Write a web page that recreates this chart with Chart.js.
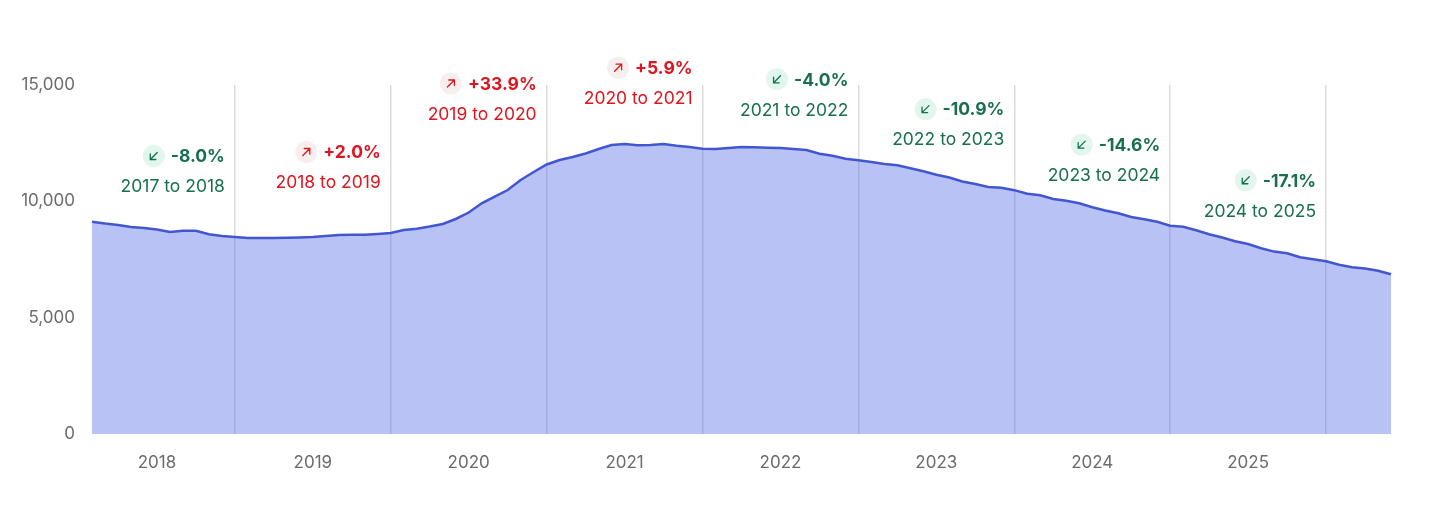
<!DOCTYPE html>
<html>
<head>
<meta charset="utf-8">
<script src="https://cdn.jsdelivr.net/npm/chart.js@4.4.1/dist/chart.umd.min.js"></script>
<style>
  html, body { margin: 0; padding: 0; background: #fff; }
  #wrap { width: 1429px; height: 526px; position: relative; }
</style>
</head>
<body>
<div id="wrap"><canvas id="trendChart"></canvas></div>
<script>
// Monthly values, first point is Feb 2018
const startYear = 2018;
const startMonth = 2;
const values = [
  9125, 9047, 8983, 8897, 8854, 8790, 8682, 8738, 8738, 8583, 8510, 8467,
  8424, 8424, 8424, 8432, 8445, 8467, 8510, 8553, 8560, 8565, 8596, 8639,
  8768, 8824, 8918, 9026, 9241, 9520, 9916, 10199, 10487, 10917, 11261, 11583,
  11776, 11905, 12056, 12250, 12421, 12464, 12408, 12421, 12464, 12391, 12335, 12262,
  12249, 12292, 12335, 12322, 12305, 12292, 12249, 12206, 12047, 11961, 11832, 11763,
  11690, 11605, 11549, 11420, 11291, 11145, 11024, 10852, 10745, 10616, 10586, 10480,
  10324, 10264, 10100, 10027, 9920, 9748, 9606, 9490, 9327, 9232, 9120, 8955,
  8905, 8755, 8587, 8446, 8287, 8166, 7981, 7840, 7767, 7595, 7509, 7425,
  7272, 7169, 7109, 7014, 6864
];
const yearLabels = ['2018', '2019', '2020', '2021', '2022', '2023', '2024', '2025'];
const yTicks = [0, 5000, 10000, 15000];

// Year-over-year changes, one per year boundary
const changePct = ['-8.0%', '+2.0%', '+33.9%', '+5.9%', '-4.0%', '-10.9%', '-14.6%', '-17.1%'];
const changeLabel = ['2017 to 2018', '2018 to 2019', '2019 to 2020', '2020 to 2021',
  '2021 to 2022', '2022 to 2023', '2023 to 2024', '2024 to 2025'];

// build month keys like 2018-02
const months = [];
for (let i = 0; i < values.length; i++) {
  const m = (startMonth - 1 + i) % 12 + 1;
  const y = startYear + Math.floor((startMonth - 1 + i) / 12);
  months.push(y + '-' + String(m).padStart(2, '0'));
}

const FONT = 'Inter, "Noto Sans", sans-serif';
const GREEN = '#17704b';
const RED = '#e0141e';

function drawArrow(ctx, cx, cy, up, color) {
  const s = 3.5;
  ctx.save();
  ctx.strokeStyle = color;
  ctx.lineWidth = 1.3;
  ctx.lineCap = 'round';
  ctx.beginPath();
  if (up) {
    ctx.moveTo(cx - s, cy + s);
    ctx.lineTo(cx + s, cy - s);
    ctx.moveTo(cx - s * 0.6, cy - s);
    ctx.lineTo(cx + s, cy - s);
    ctx.lineTo(cx + s, cy + s * 0.6);
  } else {
    ctx.moveTo(cx + s, cy - s);
    ctx.lineTo(cx - s, cy + s);
    ctx.moveTo(cx - s, cy - s * 0.6);
    ctx.lineTo(cx - s, cy + s);
    ctx.lineTo(cx + s * 0.6, cy + s);
  }
  ctx.stroke();
  ctx.restore();
}

// draws the change badges above each January point
const changeBadges = {
  id: 'changeBadges',
  afterDatasetsDraw(chart) {
    const ctx = chart.ctx;
    const meta = chart.getDatasetMeta(0);
    changePct.forEach((pct, k) => {
      const idx = months.indexOf((startYear + 1 + k) + '-01');
      const pt = meta.data[idx];
      if (!pt) return;
      const up = pct.charAt(0) === '+';
      const color = up ? RED : GREEN;
      const right = pt.x - 10;

      ctx.save();
      ctx.textAlign = 'right';
      ctx.textBaseline = 'middle';
      ctx.fillStyle = color;
      ctx.font = 'bold 17.5px ' + FONT;
      ctx.fillText(pct, right, pt.y - 80);
      const w = ctx.measureText(pct).width;

      ctx.font = '17.5px ' + FONT;
      ctx.fillText(changeLabel[k], right, pt.y - 50);

      const cx = right - w - 17;
      const cy = pt.y - 81;
      ctx.beginPath();
      ctx.arc(cx, cy, 11, 0, Math.PI * 2);
      ctx.fillStyle = up ? '#f7eeee' : '#e3f6ed';
      ctx.fill();
      ctx.restore();
      drawArrow(ctx, cx, cy, up, color);
    });
  }
};

const ctx = document.getElementById('trendChart').getContext('2d');
const trendChart = new Chart(ctx, {
  type: 'line',
  data: {
    labels: months,
    datasets: [{
      data: values,
      borderColor: '#4356d2',
      borderWidth: 2.5,
      backgroundColor: 'rgba(77, 102, 227, 0.4)',
      fill: 'origin',
      pointRadius: 0,
      tension: 0
    }]
  },
  options: {
    responsive: true,
    maintainAspectRatio: false,
    animation: false,
    layout: { padding: { left: 0, right: 38, top: 85, bottom: 52 } },
    plugins: {
      legend: { display: false },
      tooltip: { enabled: false }
    },
    scales: {
      x: {
        border: { display: false },
        grid: {
          drawTicks: false,
          color: (c) => (c.tick && months[c.index] && months[c.index].endsWith('-01')) ? '#dcdcdc' : 'rgba(0,0,0,0)',
          lineWidth: 1.5
        },
        ticks: {
          autoSkip: false,
          maxRotation: 0,
          padding: 19,
          color: '#6b6b6b',
          font: { family: FONT, size: 17 },
          callback: (v, i) => months[i].endsWith('-07') ? yearLabels[yearLabels.indexOf(months[i].slice(0, 4))] || '' : ''
        },
        afterFit: (s) => { s.height = 40; }
      },
      y: {
        min: 0,
        max: 15000,
        border: { display: false },
        grid: { display: false, drawTicks: false },
        afterBuildTicks: (s) => { s.ticks = yTicks.map(v => ({ value: v })); },
        ticks: {
          padding: 17,
          color: '#6b6b6b',
          font: { family: FONT, size: 17 },
          callback: (v) => v.toLocaleString('en-US')
        },
        afterFit: (s) => { s.width = 92; }
      }
    }
  },
  plugins: [changeBadges]
});
</script>
</body>
</html>
